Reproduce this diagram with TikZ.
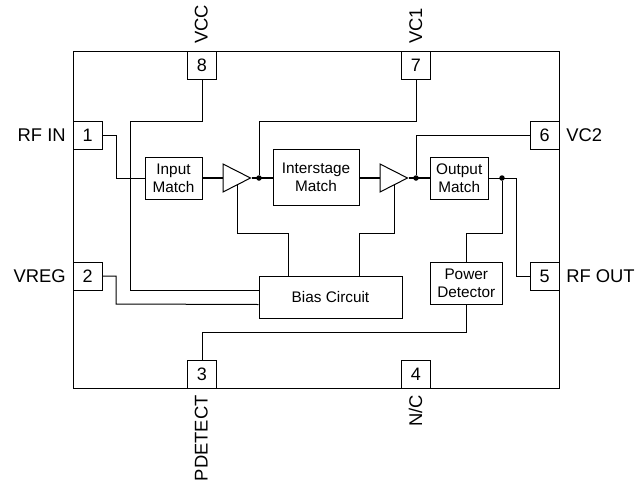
\documentclass[tikz,border=0pt]{standalone}
\usepackage{fontspec}
\setmainfont{Liberation Sans}
\usetikzlibrary{shapes.geometric}
\def\pxu{0.75pt}
\tikzset{
    wire/.style={line width=0.75pt},
    rfwire/.style={line width=1.6pt},
    pinbox/.style={draw, line width=0.75pt, fill=white, inner sep=0pt, minimum width=28.5*\pxu, minimum height=28*\pxu, font=\fontsize{13.5}{16}\selectfont},
    blockbox/.style={draw, line width=0.75pt, inner sep=0pt, align=center, font=\fontsize{11.5}{13.7}\selectfont},
    amptri/.style={draw, line width=0.75pt, fill=white, isosceles triangle, isosceles triangle stretches, shape border rotate=0, inner sep=0pt, minimum width=28*\pxu, minimum height=27.5*\pxu},
    jdot/.style={circle, fill=black, inner sep=0pt, minimum size=5.5*\pxu},
    pinlabel/.style={inner sep=0pt, font=\fontsize{13.8}{16}\selectfont},
}
\begin{document}
\begin{tikzpicture}[x=0.75pt, y=-0.75pt]
    \useasboundingbox (0,0) rectangle (637,483);
    % package outline
    \node (chip) [draw, line width=0.75pt, minimum width=485.5*\pxu, minimum height=336.5*\pxu] at (316.25,219.75) {};
    % pins
    \node (pin1) [pinbox] at (87.75,135.5) {1};
    \node (pin2) [pinbox] at (87.75,276) {2};
    \node (pin3) [pinbox] at (202,374) {3};
    \node (pin4) [pinbox] at (416,374) {4};
    \node (pin5) [pinbox] at (544.75,276) {5};
    \node (pin6) [pinbox] at (544.75,135.5) {6};
    \node (pin7) [pinbox] at (416,65.5) {7};
    \node (pin8) [pinbox] at (202,65.5) {8};
    % blocks
    \node (inmatch) [blockbox, minimum width=57*\pxu, minimum height=42*\pxu] at (173.5,178) {Input\\Match};
    \node (inter) [blockbox, minimum width=86*\pxu, minimum height=56*\pxu] at (316,177.5) {Interstage\\Match};
    \node (outmatch) [blockbox, minimum width=57.5*\pxu, minimum height=42*\pxu] at (459.25,178) {Output\\Match};
    \node (det) [blockbox, minimum width=71.5*\pxu, minimum height=42*\pxu] at (466.25,283) {Power\\Detector};
    \node (bias) [blockbox, minimum width=143*\pxu, minimum height=42*\pxu] at (330.5,297) {Bias Circuit};
    % amplifiers and junctions
    \node (amp1) [amptri, anchor=lower side] at (222.5,178) {};
    \node (amp2) [amptri, anchor=lower side] at (379.5,178) {};
    \node (dot1) [jdot] at (259,178) {};
    \node (dot2) [jdot] at (416,178) {};
    \node (dot3) [jdot] at (502,178) {};
    % labels
    \node (lblin) [pinlabel, anchor=east] at (66,135.5) {RF IN};
    \node (lblreg) [pinlabel, anchor=east] at (66,276) {VREG};
    \node (lblvc2) [pinlabel, anchor=west] at (566,135.5) {VC2};
    \node (lblout) [pinlabel, anchor=west] at (566,276) {RF OUT};
    \node (lblvcc) [pinlabel, rotate=90, anchor=base west] at (207.5,44) {VCC};
    \node (lblvc1) [pinlabel, rotate=90, anchor=base west] at (422,44) {VC1};
    \node (lbldet) [pinlabel, rotate=90, anchor=base east] at (207.5,395) {PDETECT};
    \node (lblnc) [pinlabel, rotate=90, anchor=base east] at (422,395) {N/C};
    % rf path
    \draw[rfwire] (inmatch.east) -- (amp1.lower side);
    \draw[rfwire] (amp1.apex) -- (inter.west |- amp1.apex);
    \draw[rfwire] (inter.east |- amp2.lower side) -- (amp2.lower side);
    \draw[rfwire] (amp2.apex) -- (outmatch.west);
    % connections
    \draw[wire] (pin1.east) -| (116,178) -- (inmatch.west);
    \draw[wire] (pin8.south) |- (130.5,121) |- (bias.west |- pin2.south);
    \draw[wire] (pin2.east) -| (116,304) -- (bias.west |- det.south);
    \draw[wire] (dot1) |- (pin7.south |- 0,121) -- (pin7.south);
    \draw[wire] (dot2) |- (pin6.west);
    \draw[wire] (outmatch.east) -| (516,276) -- (pin5.west);
    \draw[wire] (dot3) |- (det.north |- 0,233.5) -- (det.north);
    \draw[wire] (amp1.right side) |- (288,233.5) -- (288,276);
    \draw[wire] (amp2.right side) |- (inter.east |- 0,233.5) -- (inter.east |- bias.north);
    \draw[wire] (det.south) |- (pin3.north |- 0,332) -- (pin3.north);
\end{tikzpicture}
\end{document}
